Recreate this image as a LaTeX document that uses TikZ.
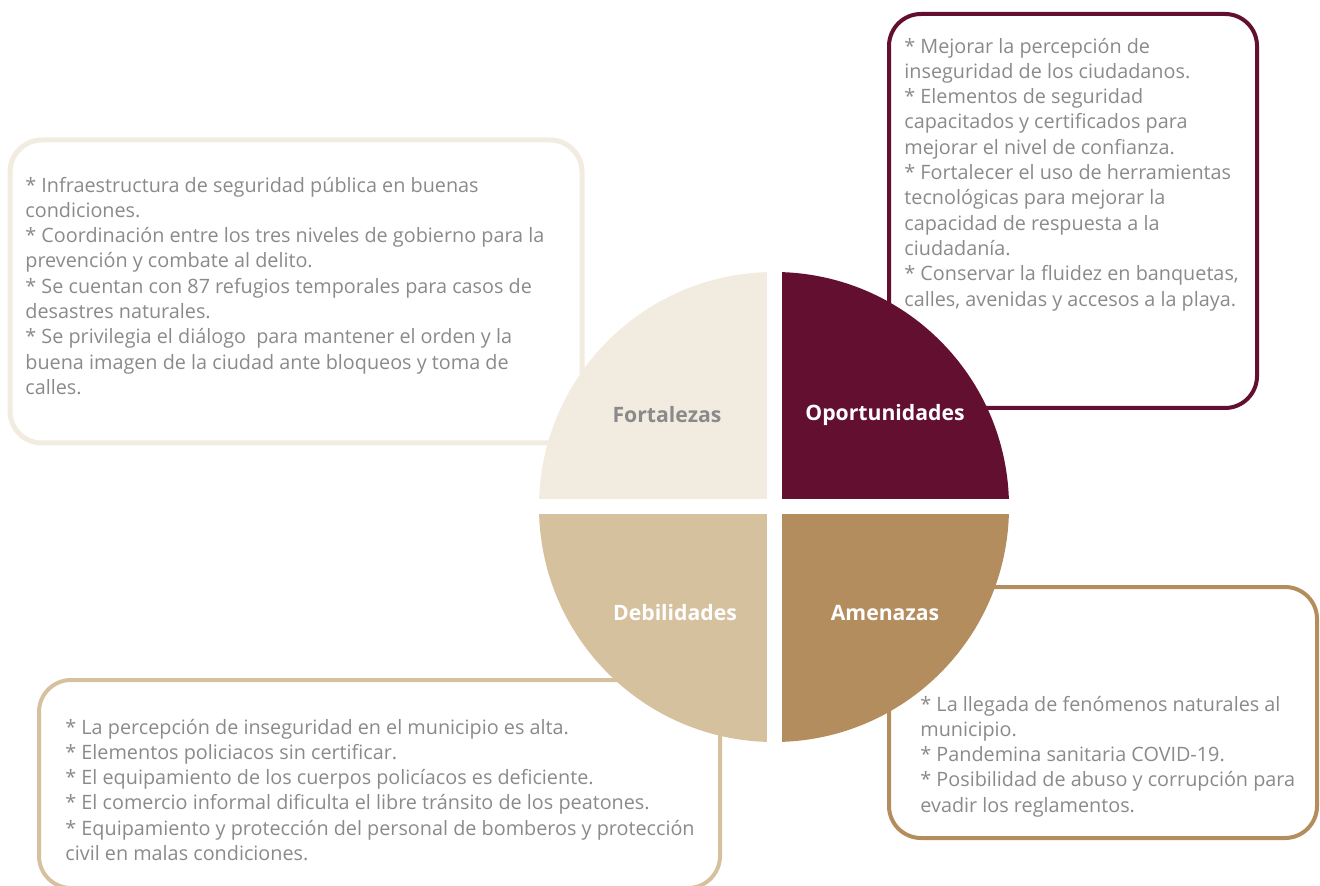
\documentclass[tikz,border=0pt]{standalone}
\usepackage{fontspec}
\setmainfont{Open Sans}
\definecolor{crema}{HTML}{F2EBE0}
\definecolor{vino}{HTML}{620F30}
\definecolor{arena}{HTML}{D6C19E}
\definecolor{dorado}{HTML}{B38D5E}
\definecolor{textogris}{HTML}{8A8A8A}
\tikzset{
  caja/.style={line width=2pt, rounded corners=16pt},
  lista/.style={anchor=north west, align=left, text=textogris,
    font=\fontsize{9.9}{12.65}\selectfont, inner sep=0pt},
  rotulo/.style={font=\fontsize{10.6}{12}\selectfont\bfseries, text=white}
}
\begin{document}
\begin{tikzpicture}[x=0.5pt, y=-0.5pt]
        \useasboundingbox (0,0) rectangle (1320,886);

        % cajas de texto
        \draw[caja, crema, line width=2.5pt] (10,140) rectangle (582,443);
        \draw[caja, vino] (889,14) rectangle (1257,408);
        \draw[caja, dorado] (889,587) rectangle (1317,838);
        \draw[caja, arena] (39,680) rectangle (720,888);

        % textos
        \node[lista] (fortalezas) at (25,176.5) {* Infraestructura de seguridad pública en buenas\\condiciones.\\* Coordinación entre los tres niveles de gobierno para la\\prevención y combate al delito.\\* Se cuentan con 87 refugios temporales para casos de\\desastres naturales.\\* Se privilegia el diálogo \ para mantener el orden y la\\buena imagen de la ciudad ante bloqueos y toma de\\calles.};
        \node[lista] (oportunidades) at (904,37.5) {* Mejorar la percepción de\\inseguridad de los ciudadanos.\\* Elementos de seguridad\\capacitados y certificados para\\mejorar el nivel de confianza.\\* Fortalecer el uso de herramientas\\tecnológicas para mejorar la\\capacidad de respuesta a la\\ciudadanía.\\* Conservar la fluidez en banquetas,\\calles, avenidas y accesos a la playa.};
        \node[lista] (debilidades) at (65,718.5) {* La percepción de inseguridad en el municipio es alta.\\* Elementos policiacos sin certificar.\\* El equipamiento de los cuerpos policíacos es deficiente.\\* El comercio informal dificulta el libre tránsito de los peatones.\\* Equipamiento y protección del personal de bomberos y protección\\civil en malas condiciones.};
        \node[lista] (amenazas) at (920,695.5) {* La llegada de fenómenos naturales al\\municipio.\\* Pandemina sanitaria COVID-19.\\* Posibilidad de abuso y corrupción para\\evadir los reglamentos.};

        % circulo FODA en cuatro cuadrantes
        \begin{scope}
          \clip (774,507) circle (235);
          \fill[crema] (530,260) rectangle (766.5,499.5);
          \fill[vino] (781.5,260) rectangle (1020,499.5);
          \fill[arena] (530,514.5) rectangle (766.5,750);
          \fill[dorado] (781.5,514.5) rectangle (1020,750);
        \end{scope}

        % rotulos
        \node[rotulo, text=textogris] (f) at (667,415) {Fortalezas};
        \node[rotulo] (o) at (885,415) {Oportunidades};
        \node[rotulo] (d) at (675,613) {Debilidades};
        \node[rotulo] (a) at (885,613) {Amenazas};
\end{tikzpicture}
\end{document}
